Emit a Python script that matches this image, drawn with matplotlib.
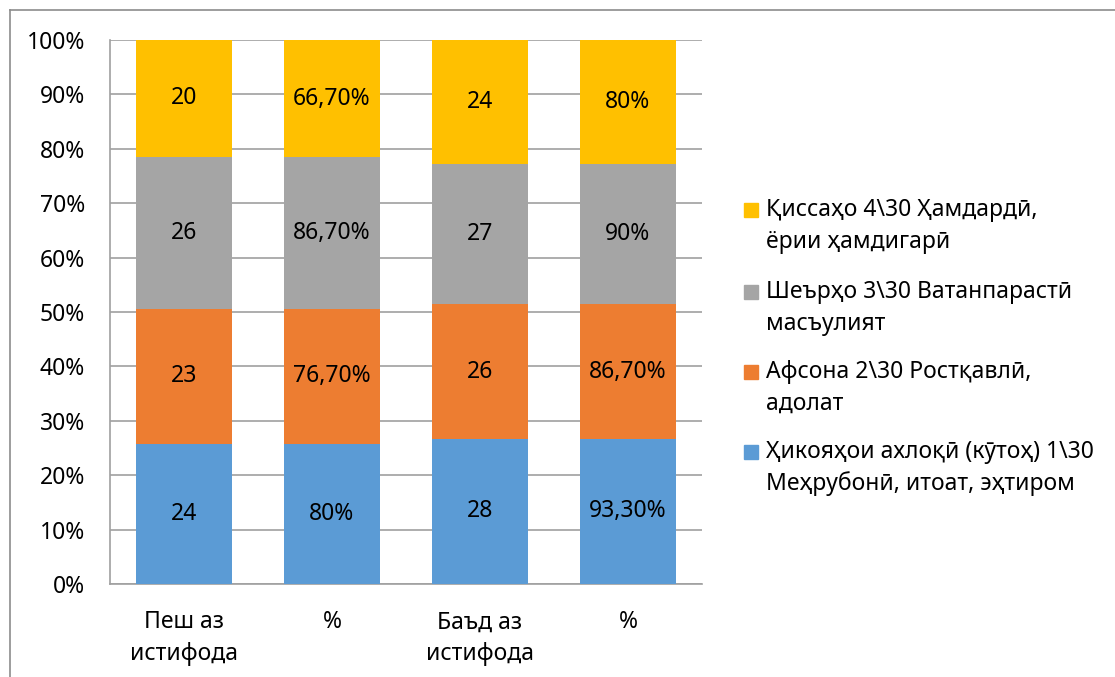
import matplotlib
matplotlib.use("Agg")
import matplotlib.pyplot as plt
import numpy as np
from matplotlib.lines import Line2D
from matplotlib.patches import Rectangle

plt.rcParams['font.family'] = ['Noto Sans', 'DejaVu Sans']

categories = ["Пеш аз\nистифода", "%", "Баъд аз\nистифода", "%"]
series_names = [
    "Ҳикояҳои ахлоқӣ (кӯтоҳ) 1\\30\nМеҳрубонӣ, итоат, эҳтиром",
    "Афсона 2\\30 Ростқавлӣ,\nадолат",
    "Шеърҳо 3\\30 Ватанпарастӣ\nмасъулият",
    "Қиссаҳо 4\\30 Ҳамдардӣ,\nёрии ҳамдигарӣ",
]
s1 = [24, 80, 28, 93.3]
s2 = [23, 76.7, 26, 86.7]
s3 = [26, 86.7, 27, 90]
s4 = [20, 66.7, 24, 80]
s1_labels = ["24", "80%", "28", "93,30%"]
s2_labels = ["23", "76,70%", "26", "86,70%"]
s3_labels = ["26", "86,70%", "27", "90%"]
s4_labels = ["20", "66,70%", "24", "80%"]
y_ticks = [0, 10, 20, 30, 40, 50, 60, 70, 80, 90, 100]

colors = ["#5B9BD5", "#ED7D31", "#A5A5A5", "#FFC000"]
series = [s1, s2, s3, s4]
labels = [s1_labels, s2_labels, s3_labels, s4_labels]

W, H = 1115, 677
fig = plt.figure(figsize=(W / 100, H / 100), dpi=100)
ax = fig.add_axes([110 / W, 1 - 584 / H, (702 - 110) / W, (584 - 40) / H])

data = np.array(series, dtype=float)
totals = data.sum(axis=0)
pct = data / totals * 100
x = np.arange(len(categories))
bottom = np.zeros(len(categories))
FS = 16.5
for i in range(len(series)):
    ax.bar(x, pct[i], 0.65, bottom=bottom, color=colors[i], zorder=3)
    for j in range(len(categories)):
        ax.text(x[j], bottom[j] + pct[i][j] / 2, labels[i][j], ha='center', va='center',
                fontsize=FS, color='black', zorder=4)
    bottom += pct[i]

ax.set_xlim(-0.5, 3.5)
ax.set_ylim(0, 100)
ax.set_yticks(y_ticks)
ax.set_yticklabels([f"{t}%" for t in y_ticks], fontsize=FS)
ax.set_xticks(x)
ax.set_xticklabels(categories, fontsize=FS, linespacing=1.45)
ax.tick_params(axis='both', length=0)
ax.tick_params(axis='y', pad=18)
ax.tick_params(axis='x', pad=19)
ax.yaxis.grid(True, color='#A0A0A0', linewidth=1.2, zorder=0)
for s in ['top', 'right']:
    ax.spines[s].set_visible(False)
ax.spines['left'].set_color('#A0A0A0')
ax.spines['bottom'].set_color('#A0A0A0')
ax.spines['left'].set_linewidth(1.2)
ax.spines['bottom'].set_linewidth(1.2)

# legend (manual, markers aligned with the first line)
leg_y = [452, 372, 292, 210]
line_gap = 32
for i in range(len(series)):
    yy = leg_y[i]
    fig.patches.append(Rectangle((744 / W, 1 - (yy + 7) / H), 14 / W, 14 / H,
                                 transform=fig.transFigure, color=colors[i]))
    for k, line in enumerate(series_names[i].split("\n")):
        fig.text(766 / W, 1 - (yy + k * line_gap) / H, line, fontsize=FS,
                 va='center', ha='left')

# outer frame
fig.add_artist(Line2D([10 / W, 10 / W], [0, 1 - 10 / H], transform=fig.transFigure,
                      color='#8C8C8C', linewidth=1.2))
fig.add_artist(Line2D([10 / W, 1], [1 - 10 / H, 1 - 10 / H], transform=fig.transFigure,
                      color='#8C8C8C', linewidth=1.2))

fig.savefig("out.png", dpi=100)
